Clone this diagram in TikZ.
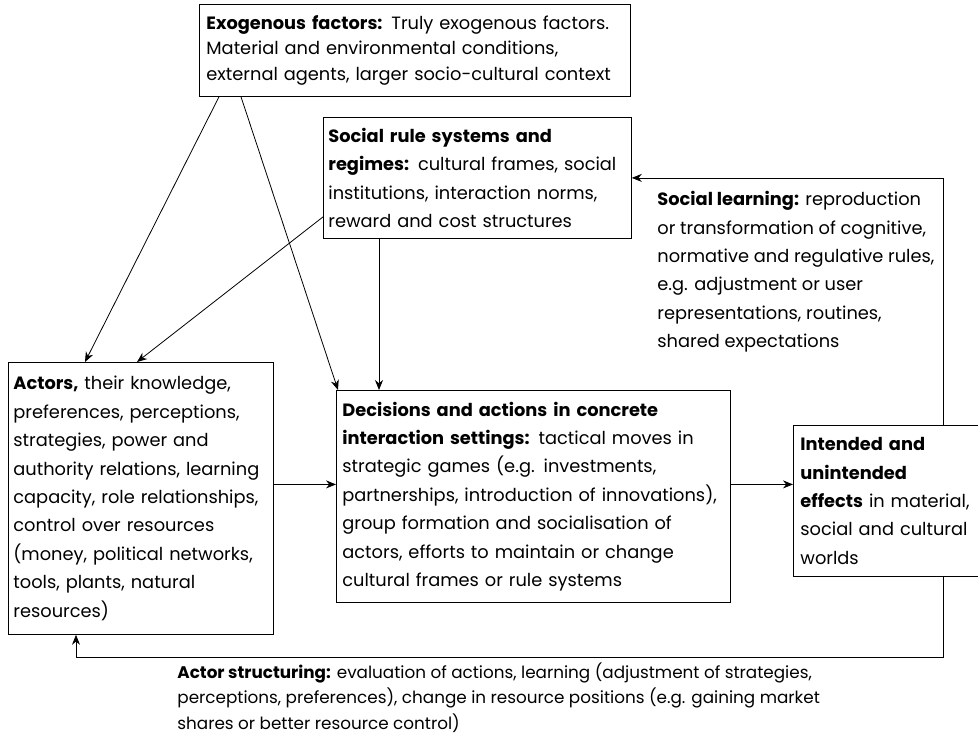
\documentclass[tikz,border=0pt]{standalone}
\usepackage{fontspec}
\setmainfont{Poppins}
\usetikzlibrary{arrows.meta,positioning,calc}
\tikzset{
    -{Stealth[length=5pt,width=4pt]},line width=0.5pt,
    txt/.style ={font=\fontsize{8.9}{12.75}\selectfont, align=left},
    wide/.style ={font=\fontsize{8.9}{14.2}\selectfont},
    box/.style ={txt, draw, anchor=north west, inner xsep=2.5pt, inner ysep=0pt},
    free/.style ={txt, anchor=north west, inner sep=0pt}
}

\begin{document}
\begin{tikzpicture}[x=0.5pt,y=-0.5pt]
    \useasboundingbox (0,0) rectangle (978,745);
        \node[box, inner xsep=3.5pt, text width=208.5pt, minimum height=46pt] (1) at (199,4)
            {\textbf{Exogenous factors:} Truly exogenous factors.\\
             Material and environmental conditions,\\
             external agents, larger socio-cultural context};
        \node[box, wide, text width=149pt, minimum height=60.5pt] (2) at (323,117)
            {\textbf{Social rule systems and}\\
             \textbf{regimes:} cultural frames, social\\
             institutions, interaction norms,\\
             reward and cost structures};
        \node[box, wide, text width=127.5pt, minimum height=136pt] (3) at (8,362)
            {\textbf{Actors,} their knowledge,\\
             preferences, perceptions,\\
             strategies, power and\\
             authority relations, learning\\
             capacity, role relationships,\\
             control over resources\\
             (money, political networks,\\
             tools, plants, natural\\
             resources)};
        \node[box, wide, inner xsep=3pt, text width=191pt, minimum height=106pt] (4) at (336,390)
            {\textbf{Decisions and actions in concrete}\\
             \textbf{interaction settings:} tactical moves in\\
             strategic games (e.g. investments,\\
             partnerships, introduction of innovations),\\
             group formation and socialisation of\\
             actors, efforts to maintain or change\\
             cultural frames or rule systems};
        \node[box, wide, inner xsep=3.5pt, text width=92pt, minimum height=75.5pt] (5) at (793,425)
            {\textbf{Intended and}\\
             \textbf{unintended}\\
             \textbf{effects} in material,\\
             social and cultural\\
             worlds};
        \node[free, wide] (6) at (657,191)
            {\textbf{Social learning:} reproduction\\
             or transformation of cognitive,\\
             normative and regulative rules,\\
             e.g. adjustment or user\\
             representations, routines,\\
             shared expectations};
        \node[free, font=\fontsize{8.4}{12.75}\selectfont] (7) at (177,662)
            {\textbf{Actor structuring:} evaluation of actions, learning (adjustment of strategies,\\
             perceptions, preferences), change in resource positions (e.g. gaining market\\
             shares or better resource control)};

        \draw ([xshift=10pt]1.south west) -- ([xshift=38.5pt]3.north west);
        \draw ([xshift=21pt]1.south west) -- ([xshift=1pt]4.north west);
        \draw ([yshift=-19.5pt]2.west) -- ([xshift=64.5pt]3.north west);
        \draw ([xshift=28pt]2.south west) -- ([xshift=28pt]2.south west |- 4.north);
        \draw ([yshift=7pt]3.east) -- ([yshift=7pt]3.east -| 4.west);
        \draw ([yshift=6pt]4.east) -- ([yshift=6pt]4.east -| 5.west);
        \draw ([xshift=75pt]5.north west) |- (2.east);
        \coordinate (c) at ([xshift=34pt,yshift=-11.5pt]3.south west);
        \draw ([xshift=75pt]5.south west) |- (c) -- ([xshift=34pt]3.south west);

\end{tikzpicture}
\end{document}
